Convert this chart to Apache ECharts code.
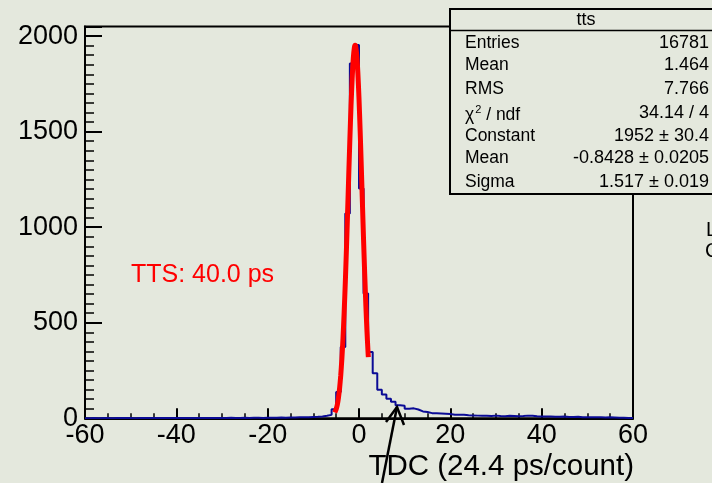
<!DOCTYPE html>
<html>
<head>
<meta charset="utf-8">
<script src="https://cdn.jsdelivr.net/npm/echarts@6/dist/echarts.min.js"></script>
<style>
html,body{margin:0;padding:0;background:#e4e8dd;}
#chart{width:712px;height:483px;}
</style>
</head>
<body>
<div id="chart"></div>
<script>
// ---- data ----
const binStart = -60;
const binWidth = 1;
const counts = [
  0,1,0,1,1,0,1,2,1,1,      // -60 .. -51
  0,1,1,2,1,1,2,1,1,2,      // -50 .. -41
  1,2,1,2,2,1,2,2,1,2,      // -40 .. -31
  2,3,2,2,3,2,3,3,2,3,      // -30 .. -21
  3,3,4,3,4,4,5,5,6,7,      // -20 .. -11
  8,10,13,18,48,138,373,1072,1857,1953, // -10 .. -1
  1203,653,347,236,150,125,102,86,68,66, // 0 .. 9
  50,52,46,36,33,27,26,25,24,22,         // 10 .. 19
  19,18,18,16,15,14,13,13,12,14,         // 20 .. 29
  12,11,13,12,11,12,14,13,11,10,         // 30 .. 39
  9,9,8,8,9,7,7,8,6,6,                   // 40 .. 49
  5,6,5,4,5,4,3,3,2,2                    // 50 .. 59
];
const fitX = [-5.3,-5.0,-4.75,-4.5,-4.25,-4.0,-3.75,-3.5,-3.25,-3.0,-2.75,-2.5,-2.25,-2.0,-1.75,-1.5,-1.25,-1.0,-0.84,-0.75,-0.5,-0.25,0,0.25,0.5,0.75,1.0,1.25,1.5,1.75,2.0,2.05];
const fitY = [30,48,71,107,157,224,311,421,554,710,886,1075,1270,1459,1633,1777,1883,1942,1952,1948,1903,1808,1673,1506,1319,1125,933,754,592,453,337,320];
const xTicks = [-60,-40,-20,0,20,40,60];
const yTicks = [0,500,1000,1500,2000];
const statsTitle = 'tts';
const statsRows = [
  ['Entries','16781'],
  ['Mean','1.464'],
  ['RMS','7.766'],
  ['{a|χ}{sup|2}{a| / ndf}','34.14 / 4'],
  ['Constant','1952 ± 30.4'],
  ['Mean','-0.8428 ± 0.0205'],
  ['Sigma','1.517 ± 0.019']
];
const fitLabel = 'TTS: 40.0 ps';
const xTitle = 'TDC (24.4 ps/count)';

// ---- build ----
const histData = counts.map((c, i) => [binStart + i * binWidth, c]);
histData.push([binStart + counts.length * binWidth, counts[counts.length - 1]]);
const fitData = fitX.map((x, i) => [x, fitY[i]]);

const FONT = 'Liberation Sans, Arial, sans-serif';
const chart = echarts.init(document.getElementById('chart'), null, {renderer: 'canvas'});

const rowY = [42.7, 65, 89.3, 113, 136, 157.7, 181.7];
const graphics = [
  {type:'rect', z:100, shape:{x:450, y:9, width:290, height:185},
   style:{fill:'#e4e8dd', stroke:'#000', lineWidth:2}},
  {type:'line', z:101, shape:{x1:450, y1:30.5, x2:740, y2:30.5}, style:{stroke:'#000', lineWidth:1.5}},
  {type:'text', z:101, x:586, y:20, style:{text:statsTitle, font:'18px ' + FONT, fill:'#000', align:'center', verticalAlign:'middle'}}
];
statsRows.forEach((r, i) => {
  const labelStyle = {text:r[0], font:'17.5px ' + FONT, fill:'#000', align:'left', verticalAlign:'middle'};
  if (r[0].indexOf('{') >= 0) {
    labelStyle.rich = {a:{fontSize:17.5, fontFamily:FONT, padding:[4,0,0,0]}, sup:{fontSize:11, fontFamily:FONT, padding:[0,0,6,1]}};
  }
  graphics.push({type:'text', z:101, x:465, y:rowY[i], style:labelStyle});
  graphics.push({type:'text', z:101, x:709, y:rowY[i], style:{text:r[1], font:'18px ' + FONT, fill:'#000', align:'right', verticalAlign:'middle'}});
});
graphics.push(
  {type:'text', z:50, x:131, y:275, style:{text:fitLabel, font:'25px ' + FONT, fill:'#ff0000', align:'left', verticalAlign:'middle'}},
  {type:'text', z:50, x:634, y:467, style:{text:xTitle, font:'29.5px ' + FONT, fill:'#000', align:'right', verticalAlign:'middle'}},
  {type:'text', z:50, x:706, y:230, style:{text:'L', font:'20px ' + FONT, fill:'#000', align:'left', verticalAlign:'middle'}},
  {type:'text', z:50, x:705, y:251, style:{text:'C', font:'20px ' + FONT, fill:'#000', align:'left', verticalAlign:'middle'}},
  {type:'polyline', z:60, shape:{points:[[382,483],[397,407]]}, style:{stroke:'#000', lineWidth:2.5, fill:null}},
  {type:'polyline', z:60, shape:{points:[[386,422],[397,407],[404,425]]}, style:{stroke:'#000', lineWidth:2.5, fill:null}}
);

chart.setOption({
  backgroundColor: '#e4e8dd',
  animation: false,
  grid: {left:85, right:79, top:26.5, bottom:64.7, show:true, borderColor:'#000', borderWidth:2, backgroundColor:'transparent'},
  xAxis: {
    type:'value', min:xTicks[0], max:xTicks[xTicks.length-1], interval:20,
    axisLine:{show:true, onZero:false, lineStyle:{color:'#000', width:2}},
    axisTick:{show:true, inside:true, length:10, lineStyle:{color:'#000', width:2}},
    minorTick:{show:true, splitNumber:4, length:5, lineStyle:{color:'#000', width:1.5}},
    splitLine:{show:false},
    axisLabel:{color:'#000', fontSize:27, fontFamily:FONT, margin:4}
  },
  yAxis: {
    type:'value', min:yTicks[0], max:2050, interval:500,
    axisLine:{show:true, onZero:false, lineStyle:{color:'#000', width:2}},
    axisTick:{show:true, inside:true, length:17, lineStyle:{color:'#000', width:2}},
    minorTick:{show:true, splitNumber:10, length:9, lineStyle:{color:'#000', width:1.5}},
    splitLine:{show:false},
    axisLabel:{color:'#000', fontSize:27, fontFamily:FONT, margin:7, showMaxLabel:false,
      formatter: v => (yTicks.indexOf(v) >= 0 ? String(v) : '')}
  },
  series: [
    {type:'line', data:histData, step:'end', symbol:'none', clip:true,
     lineStyle:{color:'#0b0b96', width:2}, z:2},
    {type:'line', data:fitData, smooth:0.2, symbol:'none', clip:true,
     lineStyle:{color:'#ff0000', width:5}, z:3}
  ],
  graphic: graphics
});
</script>
</body>
</html>
